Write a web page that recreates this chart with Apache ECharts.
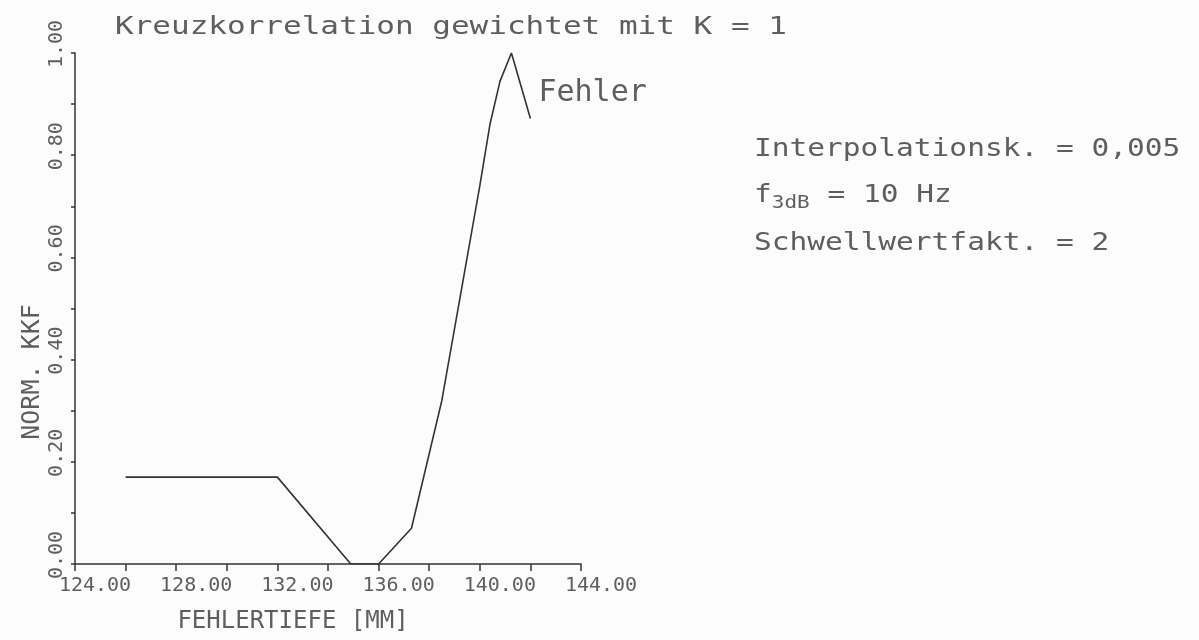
<!DOCTYPE html>
<html>
<head>
<meta charset="utf-8">
<title>Kreuzkorrelation gewichtet mit K = 1</title>
<script src="https://cdn.jsdelivr.net/npm/echarts@6/dist/echarts.min.js"></script>
<style>
  html, body { margin: 0; padding: 0; background: #fcfcfc; }
  #chart { width: 1199px; height: 640px; }
</style>
</head>
<body>
<div id="chart"></div>
<script>
// Fehlertiefe in mm and normalised cross-correlation (KKF)
const depthMm = [126.0, 132.0, 134.9, 136.0, 137.3, 138.5, 139.5, 140.0, 140.4, 140.8, 141.25, 142.0];
const kkfNorm = [0.17, 0.17, 0.0, 0.0, 0.07, 0.32, 0.60, 0.74, 0.86, 0.945, 1.0, 0.872];

// labelled tick values
const xLabelValues = [124, 128, 132, 136, 140, 144];
const yLabelValues = [0, 0.2, 0.4, 0.6, 0.8, 1.0];

// texts
const titleText = 'Kreuzkorrelation gewichtet mit K = 1';
const xAxisName = 'FEHLERTIEFE [MM]';
const yAxisName = 'NORM. KKF';
const peakName = 'Fehler';
const paramLines = [
  'Interpolationsk. = 0,005',
  '{f|f}{s|3dB}{n| = 10 Hz}',
  'Schwellwertfakt. = 2'
];

const ink = '#333333';
const textInk = '#5e5e5e';
const mono = '"DejaVu Sans Mono", monospace';

const hasLabel = (list, v) => list.some(t => Math.abs(t - v) < 1e-6);

const chart = echarts.init(document.getElementById('chart'), null, { renderer: 'canvas' });

chart.setOption({
  backgroundColor: '#fcfcfc',
  animation: false,
  grid: { left: 75, right: 618, top: 53, bottom: 76, containLabel: false },
  xAxis: {
    type: 'value',
    min: 124,
    max: 144,
    interval: 2,
    name: xAxisName,
    nameLocation: 'middle',
    nameGap: 46,
    nameTextStyle: { fontFamily: mono, fontSize: 24, color: textInk, padding: [0, 70, 0, 0] },
    axisLine: { show: true, onZero: false, lineStyle: { color: ink, width: 1.5 } },
    axisTick: { show: true, inside: false, length: 7, lineStyle: { color: ink, width: 1.5 } },
    splitLine: { show: false },
    axisLabel: {
      show: true,
      margin: 12,
      fontFamily: mono,
      fontSize: 20,
      color: textInk,
      align: 'center',
      padding: [0, 0, 0, 40],
      formatter: v => hasLabel(xLabelValues, v) ? v.toFixed(2) : ''
    }
  },
  yAxis: {
    type: 'value',
    min: 0,
    max: 1,
    interval: 0.1,
    name: yAxisName,
    nameLocation: 'middle',
    nameGap: 30,
    nameRotate: 90,
    nameTextStyle: { fontFamily: mono, fontSize: 25, color: textInk, padding: [0, 127, 0, 0] },
    axisLine: { show: true, onZero: false, lineStyle: { color: ink, width: 1.5 } },
    axisTick: { show: true, inside: false, length: 4, lineStyle: { color: ink, width: 1.5 } },
    splitLine: { show: false },
    axisLabel: {
      show: true,
      rotate: 90,
      margin: 8,
      fontFamily: mono,
      fontSize: 20,
      color: textInk,
      padding: [0, 0, 0, 18],
      formatter: v => hasLabel(yLabelValues, v) ? v.toFixed(2) : ''
    }
  },
  series: [{
    type: 'line',
    data: depthMm.map((d, i) => [d, kkfNorm[i]]),
    showSymbol: false,
    symbol: 'none',
    smooth: false,
    lineStyle: { color: ink, width: 1.6 },
    endLabel: {
      show: true,
      formatter: peakName,
      distance: 8,
      offset: [0, -25],
      fontFamily: mono,
      fontSize: 30,
      color: textInk
    }
  }],
  graphic: [
    {
      type: 'text',
      x: 115,
      y: 27,
      scaleY: 0.82,
      style: {
        text: titleText,
        font: '31px ' + mono,
        fill: textInk,
        verticalAlign: 'middle'
      }
    },
    {
      type: 'text',
      x: 754,
      y: 149,
      scaleY: 0.85,
      style: {
        text: paramLines[0],
        font: '29.5px ' + mono,
        fill: textInk,
        verticalAlign: 'middle'
      }
    },
    {
      type: 'text',
      x: 754,
      y: 195,
      scaleY: 0.85,
      style: {
        text: paramLines[1],
        font: '29.5px ' + mono,
        fill: textInk,
        verticalAlign: 'middle',
        rich: {
          f: { fontFamily: mono, fontSize: 29.5, fill: textInk, color: textInk },
          s: { fontFamily: mono, fontSize: 21, fill: textInk, color: textInk, padding: [20, 0, 0, 0] },
          n: { fontFamily: mono, fontSize: 29.5, fill: textInk, color: textInk }
        }
      }
    },
    {
      type: 'text',
      x: 754,
      y: 243,
      scaleY: 0.85,
      style: {
        text: paramLines[2],
        font: '29.5px ' + mono,
        fill: textInk,
        verticalAlign: 'middle'
      }
    }
  ]
});
</script>
</body>
</html>
